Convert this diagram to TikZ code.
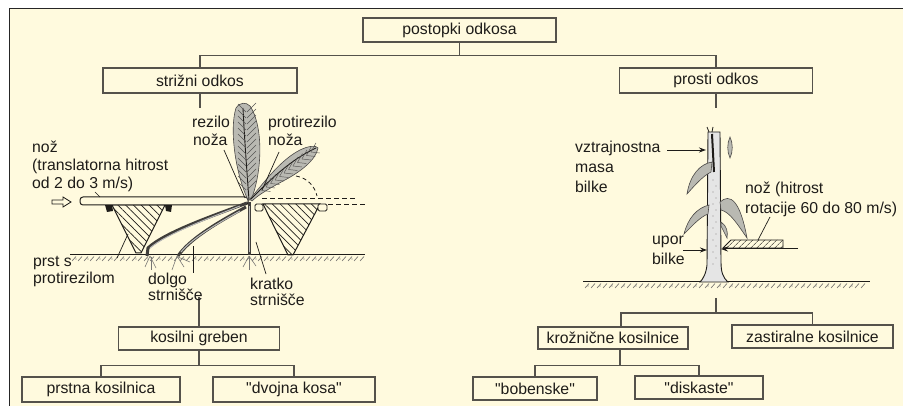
\documentclass[tikz,border=0pt]{standalone}
\usepackage{fontspec}
\setmainfont{Liberation Sans}
\usetikzlibrary{arrows.meta,patterns.meta}
\definecolor{bgc}{RGB}{255,250,222}
\definecolor{ink}{RGB}{30,28,25}
\definecolor{boxc}{RGB}{85,82,75}
\definecolor{plantc}{RGB}{185,185,178}
\newcommand\mylbl{\fontsize{15.8}{18}\selectfont}
\newcommand\qq{\textquotedbl}
\begin{document}
\begin{tikzpicture}[x=1pt,y=-1pt,
  box/.style={draw=boxc,line width=1.1pt,inner sep=0pt,text=ink,font=\mylbl},
  conn/.style={draw=boxc,line width=1.1pt},
  lbl/.style={anchor=base west,inner sep=0pt,text=ink,font=\mylbl},
  thinline/.style={draw=ink,line width=0.7pt},
  leaf/.style={draw=ink!80,line width=0.6pt,fill=plantc},
  hatchL/.style={pattern={Lines[angle=-45,distance=5.5pt,line width=0.7pt]},pattern color=ink},
  hatchR/.style={pattern={Lines[angle=45,distance=4pt,line width=0.6pt]},pattern color=ink},
  tip/.style={-{Stealth[length=7pt,width=5pt]}}]
\useasboundingbox (0,0) rectangle (903,406);
% background and frame
\fill[white] (0,0) rectangle (903,406);
\fill[bgc] (9,8) rectangle (903,406);
\draw[line width=1.6pt,black!85] (9.5,406) -- (9.5,8.5) -- (903,8.5);

% ---------- boxes ----------
\node[box,minimum width=193pt,minimum height=24pt] (top) at (459.5,30) {postopki odkosa};
\node[box,minimum width=194pt,minimum height=25pt] (striz) at (200,80.5) {strižni odkos};
\node[box,minimum width=193pt,minimum height=25pt] (prosti) at (716,80.5) {prosti odkos};
\node[box,minimum width=161pt,minimum height=23pt] (kosilni) at (199,338.5) {kosilni greben};
\node[box,minimum width=158pt,minimum height=25pt] (prstna) at (101,389.5) {prstna kosilnica};
\node[box,minimum width=162pt,minimum height=25pt] (dvojna) at (294,389.5) {\qq dvojna kosa\qq};
\node[box,minimum width=150pt,minimum height=22pt] (kroz) at (613,338) {krožnične kosilnice};
\node[box,minimum width=161pt,minimum height=23pt] (zast) at (812.5,336.5) {zastiralne kosilnice};
\node[box,minimum width=124pt,minimum height=23pt] (bob) at (535,388.5) {\qq bobenske\qq};
\node[box,minimum width=128pt,minimum height=23pt] (disk) at (699,387.5) {\qq diskaste\qq};

% ---------- connectors ----------
\draw[conn] (top.south) -- ++(0,13) coordinate (tb) -| (striz.north);
\draw[conn] (tb) -| (prosti.north);
\draw[conn] (striz.south) -- ++(0,14);
\draw[conn] (prosti.south) -- ++(0,14);
\draw[conn] (kosilni.north) -- ++(0,-29);
\draw[conn] (kosilni.south) -- ++(0,15) coordinate (kb) -| (prstna.north);
\draw[conn] (kb) -| (dvojna.north);
\coordinate (rs) at (716,298);
\draw[conn] (rs) -- ++(0,15) coordinate (rb) -| ([xshift=8pt]kroz.north);
\draw[conn] (rb) -| (zast.north);
\draw[conn] ([xshift=7pt]kroz.south) -- ++(0,16) coordinate (kzb) -| (bob.north);
\draw[conn] (kzb) -| (disk.north);

% ---------- left drawing ----------
% ground
\draw[ink,line width=1pt] (70,255) -- (365,255);
\foreach \x in {72,78,...,360} \draw[ink!65,line width=0.6pt] (\x,261) -- ({\x+4},256.5);
\foreach \x in {75,87,...,357} \fill[ink!60] ({\x+1},259) circle (0.6pt);
% fingers
\draw[ink,line width=1pt,hatchL] (112,205) -- (165,205) -- (141,253) -- (136,253) -- cycle;
\fill[ink] (105,205) -- (112,205) -- (113,211) -- (107,212) -- cycle;
\fill[ink] (165,205) -- (172,205) -- (171,212) -- (166,211) -- cycle;
\draw[ink,line width=1pt,hatchL] (263,204) -- (320,204) -- (293,255) -- (288,255) -- cycle;
\draw[ink,line width=0.8pt,fill=bgc,rounded corners=1.5pt] (255,204) rectangle (263,211);
\draw[ink,line width=0.8pt,fill=bgc,rounded corners=1.5pt] (318,204) rectangle (327,211);
% knife bar
\draw[ink,line width=1pt,fill=bgc,rounded corners=3pt] (80,197) rectangle (248,205);
% dashed
\draw[ink,line width=0.8pt,dash pattern=on 5pt off 3pt] (262,198) -- (356,198);
\draw[ink,line width=0.8pt,dash pattern=on 5pt off 3pt] (328,204) -- (366,204);
\draw[ink,line width=0.8pt,dash pattern=on 4pt off 3pt] (296,176) .. controls (308,178) and (315,187) .. (317,196);
% hollow arrow
\draw[ink,line width=0.8pt,fill=bgc] (52,200) -- (63,200) -- (63,197) -- (71,202) -- (63,207) -- (63,204) -- (52,204) -- cycle;
% roots
\foreach \a/\b/\c/\d in {150/256/145/267, 150/256/156/268, 151/257/151/270, 177/256/172/270, 177/256/184/267, 178/257/190/262, 249/256/243/267, 249/256/256/266, 249/256/249/270}
  \draw[ink!60,line width=0.6pt] (\a,\b) -- (\c,\d);
% panicles
\draw[leaf] (248,200) .. controls (236,175) and (229,130) .. (236,108) .. controls (240,102) and (246,102) .. (250,106) .. controls (263,125) and (263,170) .. (251,200) -- cycle;
\draw[ink,line width=0.9pt] (249,200) .. controls (246,160) and (244,130) .. (243,108);
\foreach \y in {112,118,...,194} {
  \draw[ink!75,line width=0.45pt] (246,\y) -- (238,{\y-8});
  \draw[ink!75,line width=0.45pt] (247,\y) -- (256,{\y-9});
}
\draw[leaf] (250,199) .. controls (262,185) and (280,160) .. (300,150) .. controls (308,146) and (316,145) .. (318,148) .. controls (316,160) and (300,172) .. (285,180) .. controls (270,188) and (258,195) .. (252,201) -- cycle;
\draw[ink,line width=0.9pt] (251,199) .. controls (270,180) and (290,160) .. (316,148);
\foreach \t in {0.15,0.22,...,0.95} {
  \draw[ink!75,line width=0.45pt] ({252+64*\t},{198-50*\t}) -- ++(5,-9);
  \draw[ink!75,line width=0.45pt] ({252+64*\t},{198-50*\t}) -- ++(9,1);
}
% stubble
\draw[ink!85,line width=3pt] (247,203) .. controls (215,215) and (165,232) .. (148,248) -- (147,256);
\draw[gray!55,line width=1pt] (240,206) .. controls (212,217) and (166,234) .. (150,248);
\draw[ink!85,line width=3pt] (246,207) .. controls (222,220) and (190,238) .. (178,256);
\draw[gray!55,line width=1pt] (240,211) .. controls (220,222) and (192,238) .. (181,252);
\draw[ink!85,line width=3pt] (249,202) -- (249,255);
\draw[gray!55,line width=1pt] (249,206) -- (249,252);
% leaders
\draw[thinline] (224,150) -- (245,198);
\draw[thinline] (279,152) -- (262,190);
\draw[thinline] (117,258) -- (128,234);
\draw[thinline] (193,273) -- (193,246);
\draw[thinline] (256,242) -- (266,274);
\draw[thinline] (95,192) -- (100,197);
% labels
\node[lbl] (n1) at (32,153) {nož};
\node[lbl] (n2) at (32,171) {(translatorna hitrost};
\node[lbl] (n3) at (32,189) {od 2 do 3 m/s)};
\node[lbl] (r1) at (192,128) {rezilo};
\node[lbl] (r2) at (193,146) {noža};
\node[lbl] (p1) at (268,128) {protirezilo};
\node[lbl] (p2) at (268,146) {noža};
\node[lbl] (ps1) at (33,267) {prst s};
\node[lbl] (ps2) at (33,284) {protirezilom};
\node[lbl] (d1) at (148,285) {dolgo};
\node[lbl] (d2) at (148,301) {strnišče};
\node[lbl] (kr1) at (250,290) {kratko};
\node[lbl] (kr2) at (250,306) {strnišče};

% ---------- right drawing ----------
\draw[ink,line width=1pt] (583,282) -- (870,282);
\foreach \x in {585,591,...,866} \draw[ink!65,line width=0.6pt] (\x,288) -- ({\x+4},283.5);
\foreach \x in {588,600,...,862} \fill[ink!60] (\x,286) circle (0.6pt);
% stem
\draw[ink,line width=0.9pt,fill=gray!20] (708,132) -- (707,265) .. controls (706,274) and (703,279) .. (700,282) -- (728,282) .. controls (723,278) and (721,272) .. (721,262) -- (720,132) -- cycle;
\draw[ink,line width=2pt] (712,134) -- (714,172);
\draw[ink,line width=0.8pt] (709,132) -- (707,127);
\draw[ink,line width=0.8pt] (712,132) -- (713,127);
\foreach \y in {180,192,...,270} \fill[ink!50] (713,\y) circle (0.6pt);
\foreach \y in {186,198,...,266} \fill[ink!50] (716,\y) circle (0.6pt);
% leaves
\draw[leaf] (712,162) .. controls (700,164) and (690,175) .. (687,194) .. controls (695,185) and (703,176) .. (711,172) -- cycle;
\draw[leaf] (709,205) .. controls (697,208) and (688,218) .. (684,234) .. controls (692,226) and (700,217) .. (708,214) -- cycle;
\draw[leaf] (720,202) .. controls (730,193) and (740,200) .. (747,238) .. controls (738,225) and (730,212) .. (721,210) -- cycle;
\draw[leaf] (721,222) .. controls (727,226) and (728,232) .. (727,238) .. controls (724,232) and (722,228) .. (721,226) -- cycle;
\draw[leaf] (730,137) .. controls (733,143) and (733,152) .. (730,158) .. controls (727,152) and (727,143) .. (730,137) -- cycle;
% knife
\draw[ink,line width=0.8pt,hatchR] (723,248) -- (731,240) -- (783,240) -- (783,248) -- cycle;
\coordinate (kn) at (798,249);
\coordinate (stR) at (721,249);
\draw[ink,line width=1pt] (kn) -- (723,249);
\draw[ink,line width=1pt,tip] (740,249) -- (stR);
\draw[thinline] (758,240) -- (770,217);
% labels
\node[lbl] (vz1) at (575,153) {vztrajnostna};
\node[lbl] (vz2) at (575,173) {masa};
\node[lbl] (vz3) at (575,193) {bilke};
\node[lbl] (k1) at (745,194) {nož (hitrost};
\node[lbl] (k2) at (745,213.5) {rotacije 60 do 80 m/s)};
\node[lbl] (u1) at (652,245) {upor};
\node[lbl] (u2) at (652,265) {bilke};
\coordinate (stL) at (706,150);
\coordinate (ua) at (683,250);
\coordinate (stL2) at (707,250);
\draw[ink,line width=0.9pt,tip] (667,150) -- (stL);
\draw[ink,line width=0.9pt,tip] (ua) -- (stL2);
\end{tikzpicture}
\end{document}
